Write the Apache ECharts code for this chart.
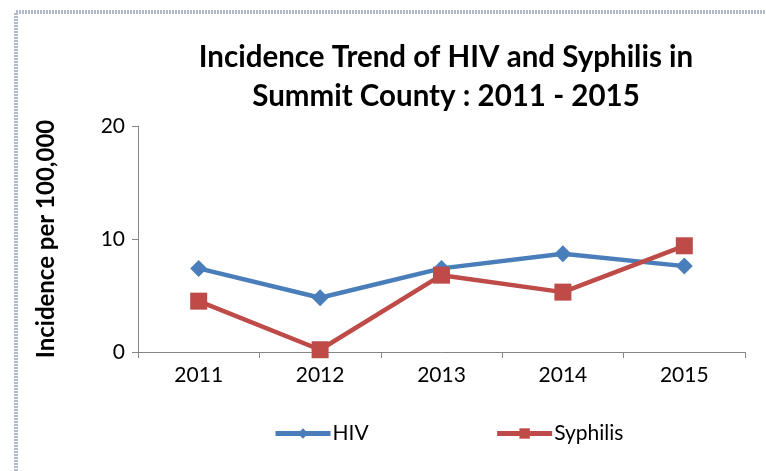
<!DOCTYPE html>
<html>
<head>
<meta charset="utf-8">
<script src="https://cdn.jsdelivr.net/npm/echarts@6/dist/echarts.min.js"></script>
<style>
html, body { margin: 0; padding: 0; background: #fff; }
#chart { width: 766px; height: 471px; }
</style>
</head>
<body>
<div id="chart"></div>
<script>
var years = ['2011', '2012', '2013', '2014', '2015']
var hivValues = [7.4, 4.8, 7.4, 8.7, 7.6]
var syphilisValues = [4.5, 0.2, 6.8, 5.3, 9.4]
var yTicks = [0, 10, 20]

var font = 'Lato, "Open Sans", sans-serif'
var chart = echarts.init(document.getElementById('chart'))
chart.setOption({
  animation: false,
  textStyle: { fontFamily: font },
  graphic: [{
    type: 'rect',
    shape: { x: 16, y: 12, width: 800, height: 520 },
    style: { fill: 'none', stroke: '#b0bacb', lineWidth: 4, lineDash: [2, 1] }
  }],
  title: {
    text: 'Incidence Trend of HIV and Syphilis in\nSummit County : 2011 - 2015',
    left: 441,
    textAlign: 'center',
    top: 33,
    textStyle: { fontSize: 29.5, fontWeight: 'bold', color: '#000', lineHeight: 39, fontFamily: font }
  },
  legend: {
    bottom: 22,
    left: 268,
    itemWidth: 55,
    itemHeight: 13,
    itemGap: 126,
    lineStyle: { width: 5 },
    textStyle: { fontSize: 21, color: '#000', padding: [0, 0, 0, -3] },
    data: ['HIV', 'Syphilis']
  },
  grid: { left: 138, right: 21, top: 126, bottom: 119 },
  xAxis: {
    type: 'category',
    data: years,
    boundaryGap: true,
    axisLine: { lineStyle: { color: '#868686', width: 1 } },
    axisTick: { show: true, length: 6, lineStyle: { color: '#868686' } },
    axisLabel: { fontSize: 21, color: '#000', margin: 13 }
  },
  yAxis: {
    type: 'value',
    min: yTicks[0],
    max: yTicks[yTicks.length - 1],
    interval: 10,
    name: 'Incidence per 100,000',
    nameLocation: 'middle',
    nameGap: 80,
    nameRotate: 90,
    nameTextStyle: { fontSize: 24, fontWeight: 'bold', color: '#000' },
    axisLine: { show: true, lineStyle: { color: '#868686', width: 1 } },
    axisTick: { show: true, length: 6, lineStyle: { color: '#868686' } },
    axisLabel: { fontSize: 21, color: '#000', margin: 13 },
    splitLine: { show: false }
  },
  series: [
    {
      name: 'HIV',
      type: 'line',
      data: hivValues,
      symbol: 'diamond',
      symbolSize: 17,
      color: '#4a7ebb',
      lineStyle: { width: 4.5, color: '#4a7ebb' },
      itemStyle: { color: '#4a7ebb' }
    },
    {
      name: 'Syphilis',
      type: 'line',
      data: syphilisValues,
      symbol: 'rect',
      symbolSize: 17,
      color: '#be4b48',
      lineStyle: { width: 4.5, color: '#be4b48' },
      itemStyle: { color: '#be4b48' }
    }
  ]
})
</script>
</body>
</html>
